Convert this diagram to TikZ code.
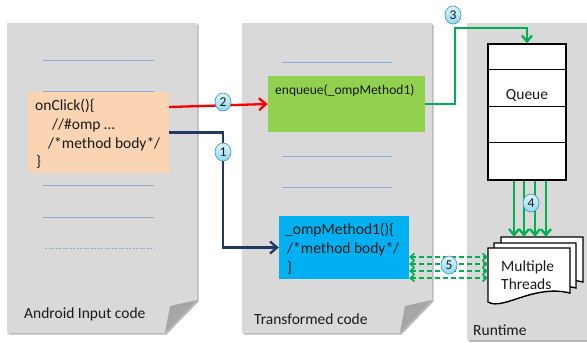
\documentclass[tikz,border=0pt]{standalone}
\usepackage{fontspec}
\setmainfont{Carlito}
\usetikzlibrary{arrows.meta,shapes.geometric,calc}
\definecolor{pagegray}{HTML}{D9D9D9}
\definecolor{shadowcol}{HTML}{B8B8B8}
\definecolor{foldgray}{HTML}{A6A6A6}
\definecolor{linecol}{HTML}{8EAADB}
\definecolor{textcol}{HTML}{1A1A1A}
\definecolor{orangebox}{HTML}{FBD4B4}
\definecolor{greenbox}{HTML}{92D050}
\definecolor{bluebox}{HTML}{00B0F0}
\definecolor{navyline}{HTML}{1F3864}
\definecolor{redline}{HTML}{FF0000}
\definecolor{greenline}{HTML}{00B050}
\definecolor{badgeedge}{HTML}{4F94C4}
\definecolor{badgetop}{HTML}{DDF5FC}
\definecolor{badgebot}{HTML}{8FD8EE}
\tikzset{
  docpage/.pic={\path[draw=black,line width=1.4pt,fill=white]
     (0,0) -- (0,54) .. controls (15,63) and (45,36) .. (82,45) -- (82,0) -- cycle;},
  txt/.style={anchor=base west, inner sep=0pt, text=textcol, font=\fontsize{15.5}{18}\selectfont},
  codeln/.style={draw=linecol, line width=0.9pt},
  boxst/.style={draw=none, inner sep=0pt},
  badge/.style={ellipse, draw=badgeedge, line width=0.7pt, top color=badgetop, bottom color=badgebot,
     minimum width=16pt, minimum height=18pt, inner sep=0pt, font=\fontsize{13.5}{13.5}\selectfont, text=textcol},
  conn/.style={line width=2.3pt},
  bigtip/.style={-{Straight Barb[length=7pt,width=12pt]}},
  gtip/.style={-{Straight Barb[length=6pt,width=10pt]}},
  dtip/.style={{Straight Barb[length=4pt,width=7pt]}-{Straight Barb[length=4pt,width=7pt]}},
}
\begin{document}
\begin{tikzpicture}[x=1pt,y=-1pt]
\useasboundingbox[fill=white] (0,0) rectangle (587,343);

% page 1
\fill[shadowcol] (8.5,24.5) -- (198.5,24.5) -- (198.5,301.5) -- (166.5,334.5) -- (8.5,334.5) -- cycle;
\fill[pagegray] (7,23) -- (197,23) -- (197,300) -- (165,333) -- (7,333) -- cycle;
\fill[foldgray] (165,333) -- (170,306) -- (197,300) -- cycle;
% page 2
\fill[shadowcol] (243.5,24.5) -- (433.5,24.5) -- (433.5,301.5) -- (401.5,334.5) -- (243.5,334.5) -- cycle;
\fill[pagegray] (242,23) -- (432,23) -- (432,300) -- (400,333) -- (242,333) -- cycle;
\fill[foldgray] (400,333) -- (405,306) -- (432,300) -- cycle;
% runtime panel
\fill[shadowcol] (468.5,24.5) rectangle (588.5,341.5);
\fill[pagegray] (467,23) rectangle (587,340);

% code lines page 1
\draw[codeln] (43,60) -- (154,60);
\draw[codeln] (43,91) -- (154,91);
\draw[codeln] (43,185) -- (154,185);
\draw[codeln] (43,217) -- (154,217);
\draw[codeln, dash pattern=on 2pt off 1.5pt] (45,248) -- (154,248);
% code lines page 2
\draw[codeln] (282,62) -- (392,62);
\draw[codeln] (282,156) -- (392,156);
\draw[codeln] (282,187) -- (392,187);

% boxes
\node[boxst, fill=orangebox, minimum width=141pt, minimum height=81pt] (click) at (98.5,132.5) {};
\node[txt] (c1t) at (35,110) {onClick()\{};
\node[txt] (c2t) at (52,129) {//\#omp …};
\node[txt] (c3t) at (48,148) {/*method body*/};
\node[txt] (c4t) at (36,166) {\}};

\node[boxst, fill=greenbox, minimum width=157pt, minimum height=56pt] (enq) at (346.5,104) {};
\node[txt, font=\fontsize{13.5}{16}\selectfont] (enqt) at (275,94) {enqueue(\_ompMethod1)};

\node[boxst, fill=bluebox, minimum width=130pt, minimum height=63pt] (meth) at (344,247.5) {};
\node[txt] (m1t) at (285,234) {\_ompMethod1()\{};
\node[txt] (m2t) at (287,253) {/*method body*/};
\node[txt] (m3t) at (287,272) {\}};

% queue
\node[draw=black, line width=1.4pt, fill=white, minimum width=78pt, minimum height=136pt, inner sep=0pt] (queue) at (527,112) {};
\draw[line width=0.7pt] ($(queue.north west)+(0,26)$) -- ($(queue.north east)+(0,26)$);
\draw[line width=0.7pt] ($(queue.north west)+(0,63)$) -- ($(queue.north east)+(0,63)$);
\draw[line width=0.7pt] ($(queue.north west)+(0,99)$) -- ($(queue.north east)+(0,99)$);
\node[inner sep=0pt, text=textcol, font=\fontsize{15.5}{18}\selectfont] (qt) at (527,95) {Queue};

% threads
\pic at (501,237) {docpage};
\pic at (494,243) {docpage};
\pic at (488,248) {docpage};
\node[inner sep=0pt, minimum width=82pt, minimum height=54pt] (thr) at (529,275) {};
\node[inner sep=0pt, minimum width=82pt, minimum height=54pt] (thrb) at (542,264) {};
\node[txt] (mt1) at (501,271) {Multiple};
\node[txt] (mt2) at (501,289) {Threads};

% labels
\node[txt] (l1) at (24,318) {Android Input code};
\node[txt] (l2) at (254,324) {Transformed code};
\node[txt] (l3) at (473,335) {Runtime};

% connectors
\coordinate (k1) at (223,190);
\draw[conn, navyline, bigtip] (click.east) -| (k1) |- (meth.west);
\draw[conn, redline, bigtip] ([yshift=25.5pt]click.east) -- (enq.west);
\coordinate (k3) at (455,28);
\draw[conn, greenline, gtip] (enq.east) -| (k3) -| (queue.north);
\foreach \dx in {-13,-3,8,19}
  \draw[conn, greenline, gtip] ($(queue.south)+(\dx,0)$) -- ($(queue.south |- thrb.north)+(\dx,0)$);
\foreach \yy in {257,264,271,278}
  \draw[line width=1.6pt, greenline, dash pattern=on 5pt off 3pt, dtip] (meth.east |- 0,\yy) -- (thr.west |- 0,\yy);

% badges
\node[badge] (b1) at (223,152) {1};
\node[badge] (b2) at (223,102) {2};
\node[badge] (b3) at (453,15) {3};
\node[badge] (b4) at (531,203) {4};
\node[badge] (b5) at (449,265) {5};
\end{tikzpicture}
\end{document}
